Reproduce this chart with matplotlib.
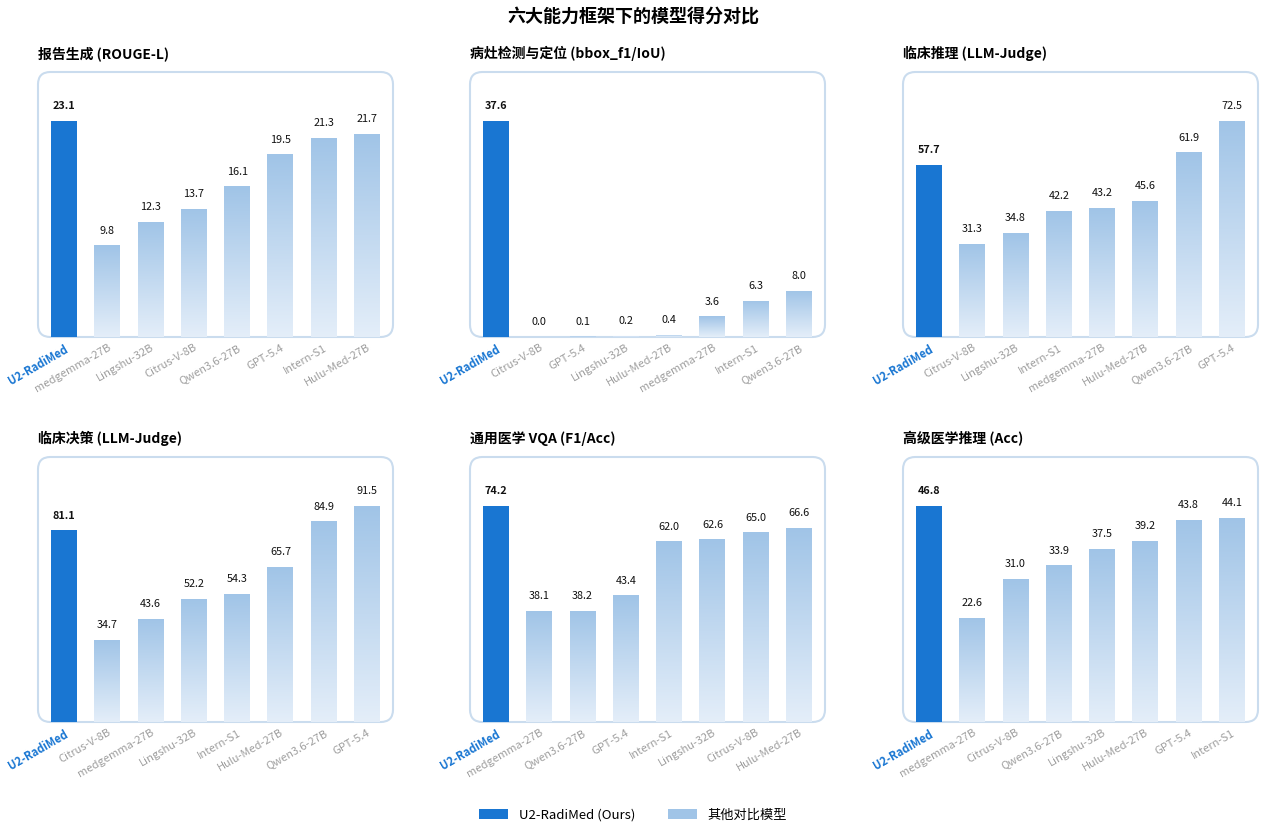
import numpy as np
import matplotlib.pyplot as plt
from matplotlib.colors import LinearSegmentedColormap
from matplotlib.patches import FancyBboxPatch, Patch

plt.rcParams['font.family'] = ['Noto Sans CJK SC', 'DejaVu Sans']

# Panel data (models in display order, scores)
titles = ["报告生成 (ROUGE-L)", "病灶检测与定位 (bbox_f1/IoU)", "临床推理 (LLM-Judge)",
          "临床决策 (LLM-Judge)", "通用医学 VQA (F1/Acc)", "高级医学推理 (Acc)"]

models_report = ["U2-RadiMed", "medgemma-27B", "Lingshu-32B", "Citrus-V-8B",
                 "Qwen3.6-27B", "GPT-5.4", "Intern-S1", "Hulu-Med-27B"]
scores_report = [23.1, 9.8, 12.3, 13.7, 16.1, 19.5, 21.3, 21.7]

models_bbox = ["U2-RadiMed", "Citrus-V-8B", "GPT-5.4", "Lingshu-32B",
               "Hulu-Med-27B", "medgemma-27B", "Intern-S1", "Qwen3.6-27B"]
scores_bbox = [37.6, 0.0, 0.1, 0.2, 0.4, 3.6, 6.3, 8.0]

models_reason = ["U2-RadiMed", "Citrus-V-8B", "Lingshu-32B", "Intern-S1",
                 "medgemma-27B", "Hulu-Med-27B", "Qwen3.6-27B", "GPT-5.4"]
scores_reason = [57.7, 31.3, 34.8, 42.2, 43.2, 45.6, 61.9, 72.5]

models_decision = ["U2-RadiMed", "Citrus-V-8B", "medgemma-27B", "Lingshu-32B",
                   "Intern-S1", "Hulu-Med-27B", "Qwen3.6-27B", "GPT-5.4"]
scores_decision = [81.1, 34.7, 43.6, 52.2, 54.3, 65.7, 84.9, 91.5]

models_vqa = ["U2-RadiMed", "medgemma-27B", "Qwen3.6-27B", "GPT-5.4",
              "Intern-S1", "Lingshu-32B", "Citrus-V-8B", "Hulu-Med-27B"]
scores_vqa = [74.2, 38.1, 38.2, 43.4, 62.0, 62.6, 65.0, 66.6]

models_adv = ["U2-RadiMed", "medgemma-27B", "Citrus-V-8B", "Qwen3.6-27B",
              "Lingshu-32B", "Hulu-Med-27B", "GPT-5.4", "Intern-S1"]
scores_adv = [46.8, 22.6, 31.0, 33.9, 37.5, 39.2, 43.8, 44.1]

panels = [(models_report, scores_report), (models_bbox, scores_bbox),
          (models_reason, scores_reason), (models_decision, scores_decision),
          (models_vqa, scores_vqa), (models_adv, scores_adv)]

OURS = "#1976d2"
OTHER = "#a0c4e7"
grad_cmap = LinearSegmentedColormap.from_list("bar_grad", ["#e4eef9", OTHER])
BOX = "#cadcee"

W, H = 1266, 836
fig = plt.figure(figsize=(W / 100, H / 100), dpi=100)

col_x = [38, 470, 903]
row_y = [72, 457]
box_w, box_h = 355, 265


def draw_panel(ax, title, models, scores):
    x = np.arange(len(models))
    bars = ax.bar(x, scores, width=0.6, color=[OURS] + [OTHER] * (len(models) - 1),
                  zorder=3)
    top = max(scores) * 1.225
    ax.set_xlim(-0.6, len(models) - 0.4)
    ax.set_ylim(0, top)

    # vertical gradient fill for comparison bars
    grad = np.linspace(0, 1, 256).reshape(-1, 1)
    for b in bars[1:]:
        h = b.get_height()
        if h <= 0:
            continue
        x0 = b.get_x()
        im = ax.imshow(grad, cmap=grad_cmap, origin='lower', aspect='auto',
                       extent=[x0, x0 + b.get_width(), 0, h], zorder=4)
        im.set_clip_path(b)

    for i, (b, v) in enumerate(zip(bars, scores)):
        ax.annotate(f"{v:.1f}", (b.get_x() + b.get_width() / 2, v),
                    xytext=(0, 7), textcoords='offset points', ha='center', va='bottom',
                    fontsize=7.8, fontweight='bold' if i == 0 else 'normal',
                    color='#111111', zorder=5)

    ax.set_xticks(x)
    ax.set_xticklabels(models, rotation=30, ha='right', rotation_mode='anchor',
                       fontsize=8, color='#9e9e9e')
    lbl = ax.get_xticklabels()[0]
    lbl.set_color(OURS)
    lbl.set_fontweight('bold')
    ax.tick_params(axis='x', length=0, pad=4)
    ax.set_yticks([])
    for s in ax.spines.values():
        s.set_visible(False)
    ax.patch.set_alpha(0)

    asp = box_w / box_h
    box = FancyBboxPatch((0, 0), 1, 1, boxstyle="round,pad=0,rounding_size=0.035",
                         mutation_aspect=asp, transform=ax.transAxes,
                         facecolor='none', edgecolor=BOX, linewidth=1.5,
                         clip_on=False, zorder=1)
    ax.add_patch(box)
    ax.set_title(title, loc='left', fontsize=10, fontweight='bold', pad=10)


for k, (title, (models, scores)) in enumerate(zip(titles, panels)):
    r, c = divmod(k, 3)
    left = col_x[c] / W
    bottom = 1 - (row_y[r] + box_h) / H
    ax = fig.add_axes([left, bottom, box_w / W, box_h / H])
    draw_panel(ax, title, models, scores)

fig.suptitle("六大能力框架下的模型得分对比", y=1 - 16 / H, va='center',
             fontsize=13, fontweight='bold')

handles = [Patch(facecolor=OURS, label="U2-RadiMed (Ours)"),
           Patch(facecolor=OTHER, label="其他对比模型")]
fig.legend(handles=handles, loc='center', bbox_to_anchor=(0.5, 1 - 815 / H), ncol=2,
           frameon=False, fontsize=9.5, handlelength=2.2, handleheight=0.8,
           columnspacing=2.5)

fig.savefig("out.png", dpi=100)
